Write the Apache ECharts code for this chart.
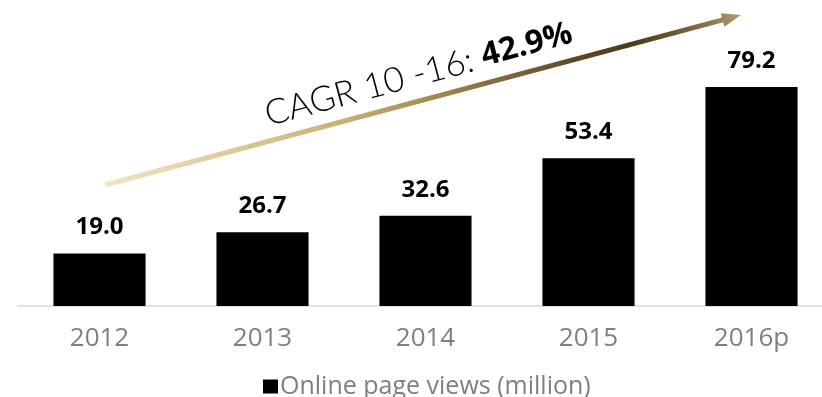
<!DOCTYPE html>
<html>
<head>
<meta charset="utf-8">
<script src="https://cdn.jsdelivr.net/npm/echarts@6/dist/echarts.min.js"></script>
<style>
  html, body { margin: 0; padding: 0; background: #ffffff; }
  #chart { width: 822px; height: 397px; }
</style>
</head>
<body>
<div id="chart"></div>
<script>
// Online page views per year, in millions
const years = ['2012', '2013', '2014', '2015', '2016p'];
const pageViews = [19.0, 26.7, 32.6, 53.4, 79.2];
const seriesName = 'Online page views (million)';
const cagrLead = 'CAGR 10 -16: ';
const cagrValue = '42.9%';

const chart = echarts.init(document.getElementById('chart'), null, { renderer: 'canvas' });

// Growth arrow: straight shaft from a tail point to a tip, with a triangular head
const tail = [105, 185];
const tip = [741, 15];
const dx = tip[0] - tail[0], dy = tip[1] - tail[1];
const len = Math.sqrt(dx * dx + dy * dy);
const ux = dx / len, uy = dy / len;
const headLen = 19, headHalf = 7;
const base = [tip[0] - ux * headLen, tip[1] - uy * headLen];
const angle = Math.atan2(-dy, dx);

const arrowGradient = {
  type: 'linear', global: true,
  x: tail[0], y: tail[1], x2: tip[0], y2: tip[1],
  colorStops: [
    { offset: 0, color: '#f0e6c2' },
    { offset: 0.37, color: '#cbb176' },
    { offset: 0.52, color: '#a38850' },
    { offset: 0.74, color: '#5d4625' },
    { offset: 0.83, color: '#4e3a1c' },
    { offset: 0.93, color: '#7e6741' },
    { offset: 1, color: '#b19b72' }
  ]
};

chart.setOption({
  animation: false,
  backgroundColor: '#ffffff',
  // plot area runs past the right edge so the five category bands are 163px wide
  grid: { left: 18, width: 815, top: 29.5, bottom: 91, containLabel: false, outerBoundsMode: 'none' },
  legend: {
    data: [seriesName],
    left: 258,
    top: 369,
    icon: 'rect',
    itemWidth: 15,
    itemHeight: 14,
    textStyle: { color: '#7f7f7f', fontFamily: 'Open Sans', fontSize: 25, padding: [0, 0, 0, -3] }
  },
  xAxis: {
    type: 'category',
    data: years,
    axisLine: { lineStyle: { color: '#d9d9d9', width: 1.5 } },
    axisTick: { show: false },
    axisLabel: { color: '#7f7f7f', fontFamily: 'Open Sans', fontSize: 26, margin: 20 }
  },
  yAxis: {
    type: 'value',
    min: 0,
    max: 100,
    show: false,
    splitLine: { show: false }
  },
  series: [{
    name: seriesName,
    type: 'bar',
    data: pageViews,
    barCategoryGap: '43.5%',
    itemStyle: { color: '#000000' },
    label: {
      show: true,
      position: 'top',
      distance: 14,
      color: '#000000',
      fontFamily: 'Open Sans',
      fontWeight: 'bold',
      fontSize: 24,
      formatter: p => p.value.toFixed(1)
    }
  }],
  graphic: [
    {
      type: 'line',
      shape: { x1: tail[0], y1: tail[1], x2: base[0] + ux * 2, y2: base[1] + uy * 2 },
      style: { stroke: arrowGradient, lineWidth: 5, lineCap: 'butt' },
      silent: true
    },
    {
      type: 'polygon',
      shape: {
        points: [
          tip,
          [base[0] - uy * headHalf, base[1] + ux * headHalf],
          [base[0] + uy * headHalf, base[1] - ux * headHalf]
        ]
      },
      style: { fill: arrowGradient },
      silent: true
    },
    {
      type: 'text',
      x: 270,
      y: 132,
      rotation: angle,
      silent: true,
      style: {
        text: '{a|' + cagrLead + '}{b|' + cagrValue + '}',
        align: 'left',
        verticalAlign: 'bottom',
        rich: {
          a: { fontFamily: 'Lato', fontWeight: 300, fontSize: 35, fill: '#000000', color: '#000000' },
          b: { fontFamily: 'Open Sans', fontWeight: 'bold', fontSize: 32, fill: '#000000', color: '#000000' }
        }
      }
    }
  ]
});
</script>
</body>
</html>
